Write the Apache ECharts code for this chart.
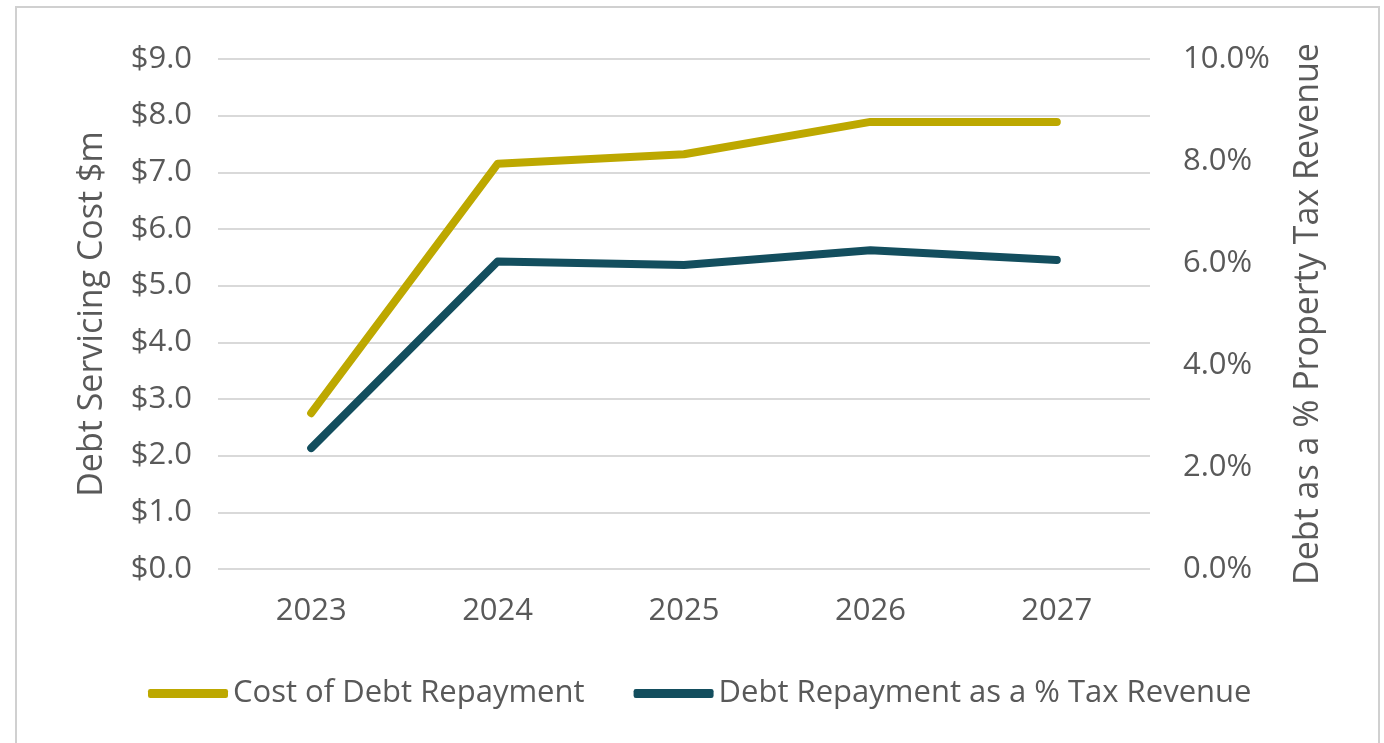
<!DOCTYPE html>
<html>
<head>
<meta charset="utf-8">
<script src="https://cdn.jsdelivr.net/npm/echarts@6/dist/echarts.min.js"></script>
<style>
  html, body { margin: 0; padding: 0; background: #fff; }
  #chart { width: 1384px; height: 743px; }
  #frame { position: absolute; left: 15px; top: 6px; width: 1361px; height: 760px; border: 2px solid #d0d0d0; pointer-events: none; }
</style>
</head>
<body>
<div id="chart"></div>
<div id="frame"></div>
<script>
const years = ['2023', '2024', '2025', '2026', '2027'];
const debtCost = [2.75, 7.15, 7.32, 7.89, 7.89]; // $m
const debtPct = [2.37, 6.03, 5.96, 6.25, 6.06]; // % of tax revenue
const costTicks = [0, 1, 2, 3, 4, 5, 6, 7, 8, 9];
const pctTicks = [0, 2, 4, 6, 8, 10];

const gold = '#BDA800';
const teal = '#134E5E';
const textColor = '#595959';
const font = 'Open Sans';

const chart = echarts.init(document.getElementById('chart'));
chart.setOption({
  animation: false,
  textStyle: { fontFamily: font },
  grid: { left: 218, right: 234, top: 59, bottom: 174 },
  legend: {
    left: 143,
    top: 673,
    itemWidth: 80,
    itemHeight: 9,
    itemGap: 49,
    icon: 'roundRect',
    textStyle: { fontSize: 31, color: textColor, fontFamily: font, padding: [0, 0, 0, 0] },
    data: ['Cost of Debt Repayment', 'Debt Repayment as a % Tax Revenue']
  },
  xAxis: {
    type: 'category',
    data: years,
    boundaryGap: true,
    axisLine: { show: false },
    axisTick: { show: false },
    axisLabel: { fontSize: 31, color: textColor, margin: 27 }
  },
  yAxis: [
    {
      type: 'value',
      min: costTicks[0],
      max: costTicks[costTicks.length - 1],
      interval: 1,
      name: 'Debt Servicing Cost $m',
      nameLocation: 'middle',
      nameRotate: 90,
      nameGap: 109,
      nameTextStyle: { fontSize: 34, color: textColor },
      axisLine: { show: false },
      axisTick: { show: false },
      axisLabel: { fontSize: 31, color: textColor, margin: 26, formatter: v => '$' + v.toFixed(1) },
      splitLine: { lineStyle: { color: '#d9d9d9', width: 2 } }
    },
    {
      type: 'value',
      position: 'right',
      min: pctTicks[0],
      max: pctTicks[pctTicks.length - 1],
      interval: 2,
      name: 'Debt as a % Property Tax Revenue',
      nameLocation: 'middle',
      nameRotate: 90,
      nameGap: 141,
      nameTextStyle: { fontSize: 34, color: textColor },
      axisLine: { show: false },
      axisTick: { show: false },
      axisLabel: { fontSize: 31, color: textColor, margin: 33, formatter: v => v.toFixed(1) + '%' },
      splitLine: { show: false }
    }
  ],
  series: [
    {
      name: 'Cost of Debt Repayment',
      type: 'line',
      data: debtCost,
      yAxisIndex: 0,
      symbol: 'none',
      color: gold,
      lineStyle: { color: gold, width: 8, cap: 'round', join: 'round' }
    },
    {
      name: 'Debt Repayment as a % Tax Revenue',
      type: 'line',
      data: debtPct,
      yAxisIndex: 1,
      symbol: 'none',
      color: teal,
      lineStyle: { color: teal, width: 8, cap: 'round', join: 'round' }
    }
  ]
});
</script>
</body>
</html>
